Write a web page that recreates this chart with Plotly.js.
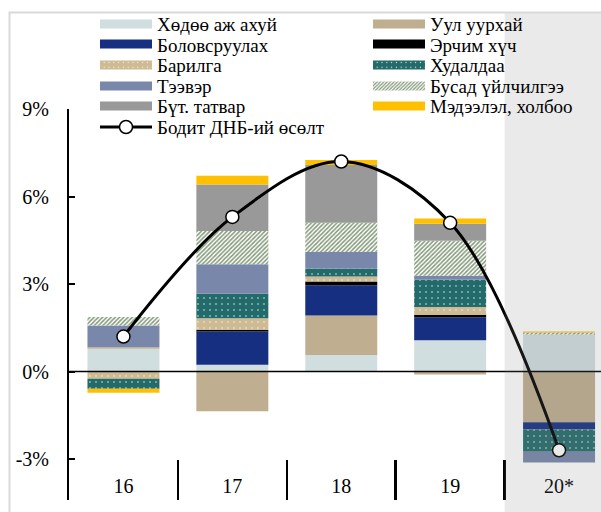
<!DOCTYPE html>
<html>
<head>
<meta charset="utf-8">
<script src="https://cdn.plot.ly/plotly-3.0.1.min.js"></script>
<style>
html,body{margin:0;padding:0;background:#ffffff;}
#chart{width:601px;height:512px;}
</style>
</head>
<body>
<div id="chart"></div>
<script>
// ---- data ----
const years = ['16', '17', '18', '19', '20*'];
const agriculture   = [0.78, 0.23, 0.57, 1.07, 1.27];   // Хөдөө аж ахуй
const mining        = [0.05, -1.36, 1.35, -0.10, -1.74]; // Уул уурхай
const manufacturing = [0.00, 1.14, 1.04, 0.79, -0.25];  // Боловсруулах
const energy        = [0.00, 0.06, 0.13, 0.09, 0.00];   // Эрчим хүч
const construction  = [-0.25, 0.40, 0.17, 0.26, 0.00];  // Барилга
const trade         = [-0.34, 0.84, 0.27, 0.94, -0.76]; // Худалдаа
const transport     = [0.75, 1.01, 0.57, 0.13, -0.37];  // Тээвэр
const otherServices = [0.29, 1.14, 1.00, 1.20, 0.07];   // Бусад үйлчилгээ
const netTaxes      = [0.00, 1.59, 1.98, 0.59, 0.00];   // Бүт. татвар
const ict           = [-0.14, 0.30, 0.17, 0.18, 0.03];  // Мэдээлэл, холбоо
const gdpGrowth     = [1.2, 5.3, 7.2, 5.1, -2.7];       // Бодит ДНБ-ий өсөлт
const yTickVals  = [-3, 0, 3, 6, 9];
const yTickText  = ['-3%', '0%', '3%', '6%', '9%'];

// ---- geometry ----
const W = 601, H = 512, ML = 69, MR = 0, MT = 109, MB = 12;
const PW = W - ML - MR, PH = H - MT - MB;
const pxX = px => (px - ML) / PW;
const pxY = py => (H - MB - py) / PH;
const FONT = '"Liberation Serif", "Times New Roman", "DejaVu Serif", serif';
const XRANGE = [-0.5, 4.385];

const series = [
  {name: 'Хөдөө аж ахуй',    y: agriculture,   color: '#d0dee0', col: 0, row: 0},
  {name: 'Уул уурхай',       y: mining,        color: '#bfae8f', col: 1, row: 0},
  {name: 'Боловсруулах',     y: manufacturing, color: '#162f80', col: 0, row: 1},
  {name: 'Эрчим хүч',        y: energy,        color: '#000000', col: 1, row: 1},
  {name: 'Барилга',          y: construction,  color: '#cebb93', col: 0, row: 2,
     pattern: {shape: '.', bgcolor: '#cebb93', fgcolor: '#f4efe4', size: 6, solidity: 0.06, fillmode: 'replace'}},
  {name: 'Худалдаа',         y: trade,         color: '#236a6a', col: 1, row: 2,
     pattern: {shape: '.', bgcolor: '#236a6a', fgcolor: '#d8e6e6', size: 6, solidity: 0.06, fillmode: 'replace'}},
  {name: 'Тээвэр',           y: transport,     color: '#7887aa', col: 0, row: 3},
  {name: 'Бусад үйлчилгээ',  y: otherServices, color: '#c5cfbd', col: 1, row: 3,
     pattern: {shape: '/', bgcolor: '#ffffff', fgcolor: '#839879', size: 3, solidity: 0.5, fillmode: 'replace'}},
  {name: 'Бүт. татвар',      y: netTaxes,      color: '#999999', col: 0, row: 4},
  {name: 'Мэдээлэл, холбоо', y: ict,           color: '#ffc000', col: 1, row: 4}
];

const rowY = [24, 44.5, 65, 85.7, 105.7, 126.7];
const colTextX = [157, 430];
const ITEMW = 50;
const layout = {
  width: W, height: H,
  margin: {l: ML, r: MR, t: MT, b: MB, pad: 0},
  paper_bgcolor: '#ffffff',
  plot_bgcolor: 'rgba(0,0,0,0)',
  barmode: 'relative',
  bargap: 0.339,
  font: {family: FONT, size: 20, color: '#000000'},
  xaxis: {
    type: 'category', categoryorder: 'array', categoryarray: years, range: XRANGE,
    showline: false, showgrid: false, zeroline: false,
    ticks: 'inside', tickson: 'boundaries', ticklen: 40, tickwidth: 2.5, tickcolor: '#000000',
    showticklabels: false, fixedrange: true
  },
  xaxis2: {
    type: 'category', categoryorder: 'array', categoryarray: years,
    overlaying: 'x', anchor: 'free', position: pxY(471.5), side: 'bottom', range: XRANGE,
    showline: false, showgrid: false, zeroline: false, ticks: '',
    tickfont: {family: FONT, size: 20, color: '#000000'}, fixedrange: true
  },
  yaxis: {
    range: [-4.405, 9], tickvals: yTickVals, ticktext: yTickText,
    showline: true, linecolor: '#000000', linewidth: 2,
    ticks: 'inside', ticklen: 6, tickwidth: 2, tickcolor: '#000000',
    showgrid: false, zeroline: false, ticklabelstandoff: 14,
    tickfont: {family: FONT, size: 20, color: '#000000'}, fixedrange: true
  },
  showlegend: true,
  shapes: [
    {type: 'rect', xref: 'paper', yref: 'paper', x0: pxX(9.5), x1: pxX(800), y0: pxY(800), y1: pxY(12.5),
     line: {color: '#d9d9d9', width: 2}, fillcolor: 'rgba(0,0,0,0)', layer: 'below'},
    {type: 'line', xref: 'paper', yref: 'y', x0: 0, x1: 1, y0: 0, y1: 0,
     line: {color: '#000000', width: 1.5}, layer: 'above'},
    {type: 'rect', xref: 'x', yref: 'paper', x0: 3.5, x1: XRANGE[1], y0: pxY(520), y1: pxY(13.5),
     line: {width: 0}, fillcolor: 'rgba(128,128,128,0.17)', layer: 'above'}
  ]
};

function legendName(col, row) {
  const idx = col * 6 + row + 1;
  return idx === 1 ? 'legend' : 'legend' + idx;
}
function addLegend(col, row) {
  const name = legendName(col, row);
  layout[name] = {
    x: pxX(colTextX[col] - ITEMW - 10), xanchor: 'left',
    y: pxY(rowY[row]), yanchor: 'middle',
    orientation: 'v', bgcolor: 'rgba(0,0,0,0)', borderwidth: 0,
    itemwidth: ITEMW, itemclick: false, itemdoubleclick: false,
    font: {family: FONT, size: 19, color: '#000000'}
  };
  return name;
}

const data = series.map(s => {
  const marker = {color: s.color, line: {width: 0}};
  if (s.pattern) marker.pattern = s.pattern;
  return {type: 'bar', name: s.name, x: years, y: s.y, marker: marker,
          legend: addLegend(s.col, s.row), hoverinfo: 'skip'};
});
data.push({
  type: 'scatter', mode: 'lines+markers', name: 'Бодит ДНБ-ий өсөлт',
  x: years, y: gdpGrowth, xaxis: 'x2', yaxis: 'y',
  line: {color: '#000000', width: 3, shape: 'spline', smoothing: 1},
  marker: {symbol: 'circle', size: 13, color: '#ffffff', line: {color: '#000000', width: 1.5}},
  legend: addLegend(0, 5), hoverinfo: 'skip'
});

// ---- legend swatches: flat wide bars like the original ----
function toLocal(el, X, Y) {
  const p = el.ownerSVGElement.createSVGPoint();
  p.x = X; p.y = Y;
  return p.matrixTransform(el.parentNode.getScreenCTM().inverse());
}
function setAttr(el, k, v) { if (el.getAttribute(k) !== v) el.setAttribute(k, v); }
function styleLegendSwatches(root) {
  root.querySelectorAll('g.traces').forEach(function (item) {
    try {
      let txt = null;
      for (const ch of item.children) { if (ch.tagName.toLowerCase() === 'text') { txt = ch; break; } }
      if (!txt) txt = item.querySelector('text');
      if (!txt) return;
      const tb = txt.getBoundingClientRect();
      if (!tb.width) return;
      const right = Math.round(tb.left - 5), left = right - 52;
      const pts = item.querySelector('path.scatterpts');
      const line = item.querySelector('path.js-line');
      if (pts) {
        const pb = pts.getBoundingClientRect();
        const cy = Math.round(pb.top + pb.height / 2);
        if (line) {
          if (line.hasAttribute('transform')) line.removeAttribute('transform');
          const a = toLocal(line, left, cy), b = toLocal(line, right, cy);
          setAttr(line, 'd', 'M' + a.x.toFixed(2) + ',' + a.y.toFixed(2) + 'H' + b.x.toFixed(2));
        }
        const c = toLocal(pts, (left + right) / 2, cy);
        setAttr(pts, 'transform', 'translate(' + c.x.toFixed(2) + ',' + c.y.toFixed(2) + ')');
        return;
      }
      item.querySelectorAll('g.legendpoints path').forEach(function (bar) {
        const bb = bar.getBoundingClientRect();
        if (!bb.width) return;
        const cy = Math.round(bb.top + bb.height / 2);
        if (bar.hasAttribute('transform')) bar.removeAttribute('transform');
        const a = toLocal(bar, left, cy - 4.5), b = toLocal(bar, right, cy + 4.5);
        setAttr(bar, 'd', 'M' + a.x.toFixed(2) + ',' + a.y.toFixed(2) + 'H' + b.x.toFixed(2) +
                          'V' + b.y.toFixed(2) + 'H' + a.x.toFixed(2) + 'Z');
      });
    } catch (e) { /* keep the default swatch */ }
  });
}

const gdEl = document.getElementById('chart');
const observer = new MutationObserver(function () {
  styleLegendSwatches(gdEl);
  observer.takeRecords();
});
observer.observe(gdEl, {childList: true, subtree: true, attributes: true, attributeFilter: ['d', 'transform']});

Plotly.newPlot(gdEl, data, layout, {displayModeBar: false, staticPlot: true}).then(function (gd) {
  styleLegendSwatches(gd);
  [0, 30, 100, 300].forEach(function (t) { setTimeout(function () { styleLegendSwatches(gd); }, t); });
});
</script>
</body>
</html>
